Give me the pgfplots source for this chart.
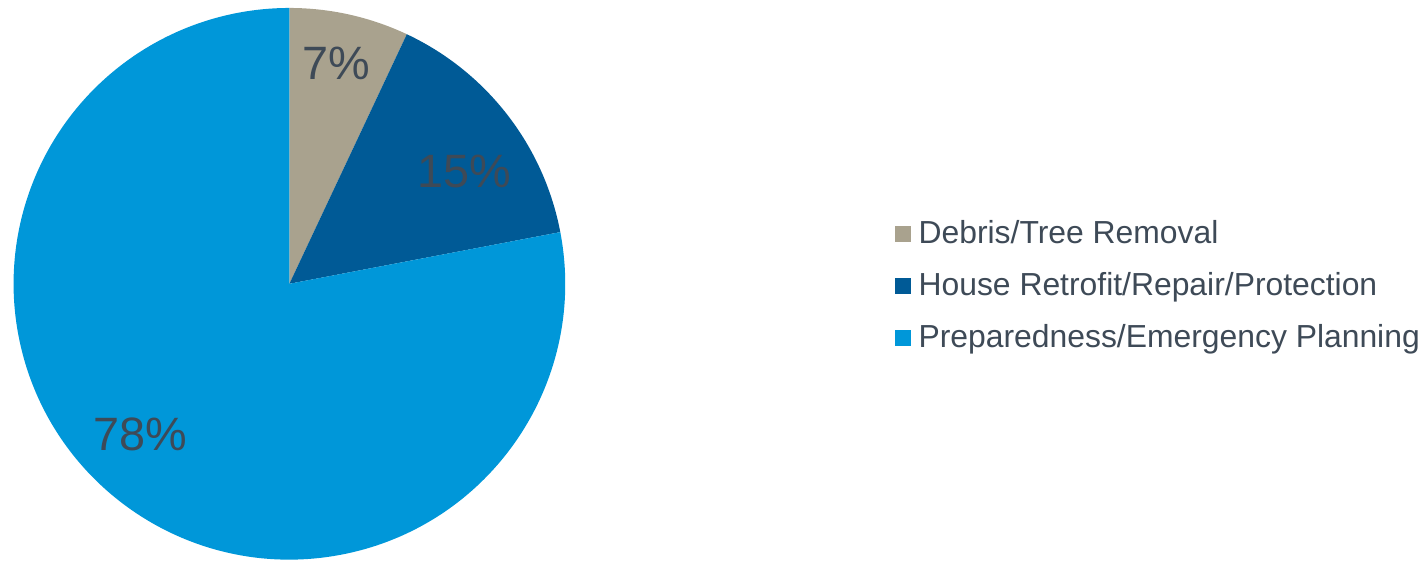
\documentclass[border=0pt]{standalone}
\usepackage{pgfplots}
\pgfplotsset{compat=1.18}
\usepackage{fontspec}
\setmainfont{Liberation Sans}
\definecolor{debris}{HTML}{A9A28E}
\definecolor{house}{HTML}{005A96}
\definecolor{prep}{HTML}{0097D9}
\definecolor{txt}{HTML}{3E4A57}
\begin{document}
\begin{tikzpicture}
\begin{axis}[
  width=713pt, height=281.5pt, scale only axis,
  xmin=0, xmax=1426, ymin=-563, ymax=0,
  hide axis, clip=false,
]
\path (axis cs:0,0) rectangle (axis cs:1426,-563);
% values: 7, 15, 78 (percent), clockwise from top
\fill[debris] (axis cs:284.5,-285) -- ++(90:138.5pt) arc[start angle=90, end angle={90-3.6*7}, radius=138.5pt] -- cycle;
\fill[house] (axis cs:284.5,-285) -- ++({90-3.6*7}:138.5pt) arc[start angle={90-3.6*7}, end angle={90-3.6*(7+15)}, radius=138.5pt] -- cycle;
\fill[prep] (axis cs:284.5,-285) -- ++({90-3.6*(7+15)}:138.5pt) arc[start angle={90-3.6*(7+15)}, end angle={90-3.6*100}, radius=138.5pt] -- cycle;
\node[anchor=base, text=txt, font=\fontsize{23.5}{27}\selectfont, inner sep=0pt] at (axis cs:332,-80) {7\%};
\node[anchor=base, text=txt, font=\fontsize{23.5}{27}\selectfont, inner sep=0pt] at (axis cs:460,-188) {15\%};
\node[anchor=base, text=txt, font=\fontsize{23.5}{27}\selectfont, inner sep=0pt] at (axis cs:135,-452) {78\%};
% legend
\fill[debris] (axis cs:893,-243) rectangle (axis cs:909,-227);
\fill[house] (axis cs:893,-295) rectangle (axis cs:909,-279);
\fill[prep] (axis cs:893,-347) rectangle (axis cs:909,-331);
\node[anchor=base west, text=txt, font=\fontsize{16}{19}\selectfont, inner sep=0pt] at (axis cs:916,-245) {Debris/Tree Removal};
\node[anchor=base west, text=txt, font=\fontsize{16}{19}\selectfont, inner sep=0pt] at (axis cs:916,-297) {House Retrofit/Repair/Protection};
\node[anchor=base west, text=txt, font=\fontsize{16}{19}\selectfont, inner sep=0pt] at (axis cs:916,-349) {Preparedness/Emergency Planning};
\end{axis}
\end{tikzpicture}
\end{document}
